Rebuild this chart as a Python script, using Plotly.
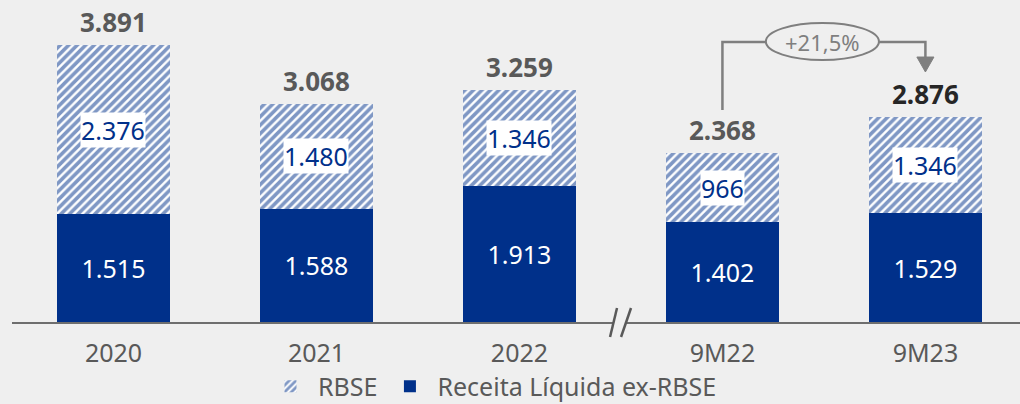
import plotly.graph_objects as go

categories = ["2020", "2021", "2022", "9M22", "9M23"]
receita_ex_rbse = [1515, 1588, 1913, 1402, 1529]
rbse = [2376, 1480, 1346, 966, 1346]
totals = [3891, 3068, 3259, 2368, 2876]
growth_label = "+21,5%"

NAVY = "#00308A"
GREY_TXT = "#595959"
LINE_GREY = "#7f7f7f"
FONT = "Noto Sans, Open Sans, sans-serif"


def br(v):
    return f"{v:,}".replace(",", ".")


xs = list(range(len(categories)))

fig = go.Figure()
fig.add_trace(go.Bar(
    x=xs, y=receita_ex_rbse, name="Receita Líquida ex-RBSE",
    marker=dict(color=NAVY, line_width=0),
    width=0.557,
    text=[br(v) for v in receita_ex_rbse],
    textposition="inside", insidetextanchor="middle",
    textfont=dict(color="white", size=25, family=FONT),
))
fig.add_trace(go.Bar(
    x=xs, y=rbse, name="RBSE",
    marker=dict(color="white", line_width=0,
                pattern=dict(shape="/", fgcolor=NAVY, bgcolor="white",
                             size=6, solidity=0.6)),
    width=0.557,
))

# labels on the hatched segments and totals
for x, b, r, t in zip(xs, receita_ex_rbse, rbse, totals):
    fig.add_annotation(x=x, y=b + r / 2, text=br(r), showarrow=False,
                       bgcolor="white", borderpad=0,
                       font=dict(color=NAVY, size=25, family=FONT))
    fig.add_annotation(x=x, y=t, text=f"<b>{br(t)}</b>", showarrow=False,
                       yanchor="bottom", yshift=3,
                       font=dict(color="#262626" if x == 4 else GREY_TXT,
                                 size=26, family=FONT))

# growth bracket 9M22 -> 9M23
fig.add_shape(type="path", path="M 3,2978 L 3,3933 L 3.214,3933",
              line=dict(color=LINE_GREY, width=2.5))
fig.add_shape(type="path", path="M 3.771,3933 L 4,3933 L 4,3722",
              line=dict(color=LINE_GREY, width=2.5))
fig.add_shape(type="path", path="M 3.958,3722 L 4.042,3722 L 4,3512 Z",
              fillcolor=LINE_GREY, line=dict(color=LINE_GREY, width=1))
fig.add_shape(type="circle", x0=3.214, x1=3.771, y0=3680, y1=4200,
              line=dict(color=LINE_GREY, width=2), fillcolor="rgba(0,0,0,0)")
fig.add_annotation(x=3.4925, y=3940, text=growth_label, showarrow=False,
                   font=dict(color=LINE_GREY, size=22, family=FONT))

# axis break marker
fig.add_shape(type="path", xref="paper", yref="paper",
              path="M 0.5933,-0.0466 L 0.6002,0.0435 L 0.6141,0.0435 L 0.6042,-0.0466 Z",
              fillcolor="#efefef", line=dict(width=0))
for x0, x1 in [(0.5933, 0.6002), (0.6042, 0.6141)]:
    fig.add_shape(type="line", xref="paper", yref="paper",
                  x0=x0, y0=-0.0466, x1=x1, y1=0.0435,
                  line=dict(color="#595959", width=2.5))

fig.update_layout(
    barmode="stack",
    width=1020, height=404,
    margin=dict(l=12, r=0, t=0, b=82, autoexpand=False),
    paper_bgcolor="#efefef", plot_bgcolor="#efefef",
    font=dict(family=FONT, color=GREY_TXT, size=25),
    showlegend=True,
    legend=dict(orientation="h", traceorder="reversed",
                x=0.249, xanchor="left", y=-0.2, yanchor="middle",
                itemwidth=45,
                font=dict(size=25, color=GREY_TXT), bgcolor="rgba(0,0,0,0)"),
)
fig.update_xaxes(range=[-0.5, 4.466], tickvals=xs, ticktext=categories,
                 showgrid=False, zeroline=False, showline=True,
                 linecolor="#6e6e6e", linewidth=2, ticks="",
                 ticklabelstandoff=8,
                 tickfont=dict(size=25, color=GREY_TXT, family=FONT))
fig.update_yaxes(range=[0, 4523], visible=False)

fig.write_html("out.html", config={"displayModeBar": False},
               post_script="document.body.style.margin='0';")
